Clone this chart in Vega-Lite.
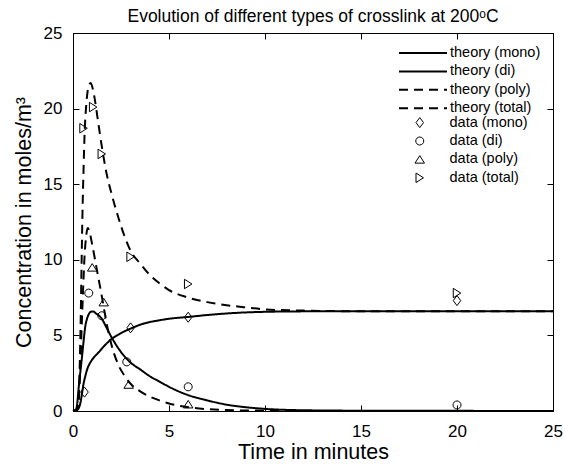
{
  "$schema": "https://vega.github.io/schema/vega-lite/v6.json",
  "width": 480,
  "height": 378,
  "autosize": {"type": "none"},
  "padding": {"left": 73, "top": 33, "right": 12, "bottom": 55},
  "background": "white",
  "config": {
    "font": "Liberation Sans",
    "view": {"stroke": "black", "strokeWidth": 1},
    "axis": {
      "domainColor": "black", "tickColor": "black", "labelColor": "black", "titleColor": "black",
      "labelFontSize": 17, "titleFontSize": 21.5, "titleFontWeight": "normal", "grid": false,
      "tickSize": -6, "domainWidth": 1, "tickWidth": 1, "labelFlush": false
    }
  },
  "title": {"text": "Evolution of different types of crosslink at 200ᵒC", "fontSize": 17.5, "fontWeight": "normal", "offset": 7, "dy": 8, "color": "black"},
  "datasets": {
    "theory": [
      {"series": "theory (mono)", "t": 0, "c": 0}, {"series": "theory (mono)", "t": 0.2, "c": 0.05}, {"series": "theory (mono)", "t": 0.3, "c": 0.2}, {"series": "theory (mono)", "t": 0.38, "c": 0.5}, {"series": "theory (mono)", "t": 0.45, "c": 1.0}, {"series": "theory (mono)", "t": 0.55, "c": 1.8}, {"series": "theory (mono)", "t": 0.65, "c": 2.35}, {"series": "theory (mono)", "t": 0.75, "c": 2.8}, {"series": "theory (mono)", "t": 0.9, "c": 3.2}, {"series": "theory (mono)", "t": 1.0, "c": 3.4}, {"series": "theory (mono)", "t": 1.35, "c": 3.9}, {"series": "theory (mono)", "t": 1.7, "c": 4.4}, {"series": "theory (mono)", "t": 2.0, "c": 4.75}, {"series": "theory (mono)", "t": 2.5, "c": 5.15}, {"series": "theory (mono)", "t": 3.0, "c": 5.45}, {"series": "theory (mono)", "t": 3.6, "c": 5.75}, {"series": "theory (mono)", "t": 4.5, "c": 6.0}, {"series": "theory (mono)", "t": 5.0, "c": 6.1}, {"series": "theory (mono)", "t": 6.0, "c": 6.22}, {"series": "theory (mono)", "t": 7.0, "c": 6.35}, {"series": "theory (mono)", "t": 8.0, "c": 6.45}, {"series": "theory (mono)", "t": 9.0, "c": 6.52}, {"series": "theory (mono)", "t": 10, "c": 6.56}, {"series": "theory (mono)", "t": 12, "c": 6.59}, {"series": "theory (mono)", "t": 15, "c": 6.6}, {"series": "theory (mono)", "t": 20, "c": 6.6}, {"series": "theory (mono)", "t": 25, "c": 6.6},
      {"series": "theory (di)", "t": 0, "c": 0}, {"series": "theory (di)", "t": 0.15, "c": 0.1}, {"series": "theory (di)", "t": 0.2, "c": 0.3}, {"series": "theory (di)", "t": 0.3, "c": 1.6}, {"series": "theory (di)", "t": 0.4, "c": 2.8}, {"series": "theory (di)", "t": 0.47, "c": 3.6}, {"series": "theory (di)", "t": 0.55, "c": 4.6}, {"series": "theory (di)", "t": 0.64, "c": 5.6}, {"series": "theory (di)", "t": 0.73, "c": 6.1}, {"series": "theory (di)", "t": 0.82, "c": 6.4}, {"series": "theory (di)", "t": 0.95, "c": 6.57}, {"series": "theory (di)", "t": 1.05, "c": 6.58}, {"series": "theory (di)", "t": 1.2, "c": 6.45}, {"series": "theory (di)", "t": 1.5, "c": 6.1}, {"series": "theory (di)", "t": 1.75, "c": 5.5}, {"series": "theory (di)", "t": 2.0, "c": 4.9}, {"series": "theory (di)", "t": 2.5, "c": 3.9}, {"series": "theory (di)", "t": 3.0, "c": 3.2}, {"series": "theory (di)", "t": 3.5, "c": 2.75}, {"series": "theory (di)", "t": 4.0, "c": 2.3}, {"series": "theory (di)", "t": 4.5, "c": 1.95}, {"series": "theory (di)", "t": 5.0, "c": 1.6}, {"series": "theory (di)", "t": 6.0, "c": 1.05}, {"series": "theory (di)", "t": 7.0, "c": 0.7}, {"series": "theory (di)", "t": 8.0, "c": 0.42}, {"series": "theory (di)", "t": 9.0, "c": 0.25}, {"series": "theory (di)", "t": 10, "c": 0.14}, {"series": "theory (di)", "t": 12, "c": 0.05}, {"series": "theory (di)", "t": 15, "c": 0.02}, {"series": "theory (di)", "t": 20, "c": 0.01}, {"series": "theory (di)", "t": 25, "c": 0},
      {"series": "theory (poly)", "t": 0, "c": 0}, {"series": "theory (poly)", "t": 0.2, "c": 0.05}, {"series": "theory (poly)", "t": 0.3, "c": 0.6}, {"series": "theory (poly)", "t": 0.35, "c": 2}, {"series": "theory (poly)", "t": 0.4, "c": 3.5}, {"series": "theory (poly)", "t": 0.45, "c": 5.5}, {"series": "theory (poly)", "t": 0.5, "c": 7.2}, {"series": "theory (poly)", "t": 0.55, "c": 8.8}, {"series": "theory (poly)", "t": 0.6, "c": 10.2}, {"series": "theory (poly)", "t": 0.68, "c": 11.5}, {"series": "theory (poly)", "t": 0.77, "c": 12.1}, {"series": "theory (poly)", "t": 0.85, "c": 11.9}, {"series": "theory (poly)", "t": 1.0, "c": 11.0}, {"series": "theory (poly)", "t": 1.25, "c": 9.3}, {"series": "theory (poly)", "t": 1.5, "c": 7.6}, {"series": "theory (poly)", "t": 1.75, "c": 5.8}, {"series": "theory (poly)", "t": 2.0, "c": 4.4}, {"series": "theory (poly)", "t": 2.38, "c": 3.0}, {"series": "theory (poly)", "t": 2.7, "c": 2.3}, {"series": "theory (poly)", "t": 3.0, "c": 1.8}, {"series": "theory (poly)", "t": 3.5, "c": 1.3}, {"series": "theory (poly)", "t": 4.0, "c": 0.95}, {"series": "theory (poly)", "t": 4.5, "c": 0.7}, {"series": "theory (poly)", "t": 5.0, "c": 0.5}, {"series": "theory (poly)", "t": 6.0, "c": 0.25}, {"series": "theory (poly)", "t": 7.0, "c": 0.12}, {"series": "theory (poly)", "t": 8.0, "c": 0.06}, {"series": "theory (poly)", "t": 10, "c": 0.02}, {"series": "theory (poly)", "t": 12, "c": 0}, {"series": "theory (poly)", "t": 25, "c": 0},
      {"series": "theory (total)", "t": 0, "c": 0}, {"series": "theory (total)", "t": 0.2, "c": 0.1}, {"series": "theory (total)", "t": 0.3, "c": 1}, {"series": "theory (total)", "t": 0.35, "c": 3}, {"series": "theory (total)", "t": 0.4, "c": 6}, {"series": "theory (total)", "t": 0.45, "c": 10}, {"series": "theory (total)", "t": 0.5, "c": 13.5}, {"series": "theory (total)", "t": 0.55, "c": 16}, {"series": "theory (total)", "t": 0.6, "c": 18.2}, {"series": "theory (total)", "t": 0.7, "c": 20.4}, {"series": "theory (total)", "t": 0.8, "c": 21.4}, {"series": "theory (total)", "t": 0.92, "c": 21.7}, {"series": "theory (total)", "t": 1.05, "c": 21.2}, {"series": "theory (total)", "t": 1.15, "c": 20.5}, {"series": "theory (total)", "t": 1.3, "c": 19.2}, {"series": "theory (total)", "t": 1.5, "c": 17.5}, {"series": "theory (total)", "t": 1.75, "c": 15.7}, {"series": "theory (total)", "t": 2.0, "c": 14.4}, {"series": "theory (total)", "t": 2.35, "c": 12.85}, {"series": "theory (total)", "t": 2.7, "c": 11.5}, {"series": "theory (total)", "t": 3.0, "c": 10.6}, {"series": "theory (total)", "t": 3.5, "c": 9.75}, {"series": "theory (total)", "t": 4.0, "c": 9.0}, {"series": "theory (total)", "t": 4.5, "c": 8.45}, {"series": "theory (total)", "t": 5.0, "c": 8.0}, {"series": "theory (total)", "t": 6.0, "c": 7.5}, {"series": "theory (total)", "t": 7.0, "c": 7.2}, {"series": "theory (total)", "t": 8.0, "c": 7.0}, {"series": "theory (total)", "t": 9.0, "c": 6.85}, {"series": "theory (total)", "t": 10, "c": 6.72}, {"series": "theory (total)", "t": 12, "c": 6.64}, {"series": "theory (total)", "t": 15, "c": 6.6}, {"series": "theory (total)", "t": 20, "c": 6.6}, {"series": "theory (total)", "t": 25, "c": 6.6}
    ],
    "obs": [
      {"series": "data (mono)", "t": 0.6, "c": 1.25}, {"series": "data (mono)", "t": 3, "c": 5.5}, {"series": "data (mono)", "t": 6, "c": 6.2}, {"series": "data (mono)", "t": 20, "c": 7.3},
      {"series": "data (di)", "t": 0.82, "c": 7.8}, {"series": "data (di)", "t": 1.5, "c": 6.3}, {"series": "data (di)", "t": 2.8, "c": 3.25}, {"series": "data (di)", "t": 6, "c": 1.6}, {"series": "data (di)", "t": 20, "c": 0.4},
      {"series": "data (poly)", "t": 1, "c": 9.5}, {"series": "data (poly)", "t": 1.6, "c": 7.2}, {"series": "data (poly)", "t": 2.9, "c": 1.75}, {"series": "data (poly)", "t": 6, "c": 0.45},
      {"series": "data (total)", "t": 0.55, "c": 18.7}, {"series": "data (total)", "t": 1.05, "c": 20.1}, {"series": "data (total)", "t": 1.5, "c": 17.0}, {"series": "data (total)", "t": 3, "c": 10.2}, {"series": "data (total)", "t": 6, "c": 8.4}, {"series": "data (total)", "t": 20, "c": 7.8}
    ]
  },
  "layer": [
    {
      "data": {"name": "theory"},
      "mark": {"type": "line", "interpolate": "monotone", "color": "black", "strokeWidth": 2},
      "encoding": {
        "x": {"field": "t", "type": "quantitative", "scale": {"domain": [0, 25], "nice": false},
          "axis": {"orient": "bottom", "values": [0, 5, 10, 15, 20, 25], "labelPadding": 18, "title": "Time in minutes", "titlePadding": 2}},
        "y": {"field": "c", "type": "quantitative", "scale": {"domain": [0, 25], "nice": false},
          "axis": {"orient": "left", "values": [0, 5, 10, 15, 20, 25], "labelPadding": 17, "title": "Concentration in moles/m³", "titlePadding": 8}},
        "strokeDash": {
          "field": "series", "type": "nominal",
          "scale": {
            "domain": ["theory (mono)", "theory (di)", "theory (poly)", "theory (total)"],
            "range": [[1, 0], [1, 0], [9, 6], [9, 6]]
          },
          "legend": {
            "title": null, "orient": "none", "legendX": 325, "legendY": 12.5,
            "symbolType": "stroke", "symbolSize": 2304, "symbolStrokeWidth": 2, "symbolStrokeColor": "black",
            "clipHeight": 15, "rowPadding": 2.4, "padding": 0,
            "labelFontSize": 14.5, "labelOffset": 2, "labelColor": "black"
          }
        }
      }
    },
    {
      "data": {"name": "obs"},
      "mark": {"type": "point", "filled": false, "stroke": "black", "strokeWidth": 1, "opacity": 1, "size": 100},
      "encoding": {
        "x": {"field": "t", "type": "quantitative", "scale": {"domain": [0, 25], "nice": false},
          "axis": {"orient": "top", "values": [0, 5, 10, 15, 20, 25], "labels": false, "title": null}},
        "y": {"field": "c", "type": "quantitative", "scale": {"domain": [0, 25], "nice": false},
          "axis": {"orient": "right", "values": [0, 5, 10, 15, 20, 25], "labels": false, "title": null}},
        "shape": {
          "field": "series", "type": "nominal",
          "scale": {
            "domain": ["data (mono)", "data (di)", "data (poly)", "data (total)"],
            "range": ["M-0.75,0L0,-1L0.75,0L0,1Z", "M0.8,0A0.8,0.8 0 1,1 -0.8,0A0.8,0.8 0 1,1 0.8,0Z", "M0,-0.75L0.95,0.75L-0.95,0.75Z", "M-0.75,-0.95L0.75,0L-0.75,0.95Z"]
          },
          "legend": {
            "title": null, "orient": "none", "legendX": 339.5, "legendY": 82.1,
            "symbolSize": 100, "symbolStrokeWidth": 1, "symbolStrokeColor": "black", "symbolFillColor": "transparent",
            "clipHeight": 15, "rowPadding": 2.4, "padding": 0,
            "labelFontSize": 14.5, "labelOffset": 22.5, "labelColor": "black"
          }
        }
      }
    }
  ],
  "resolve": {"axis": {"x": "independent", "y": "independent"}}
}
